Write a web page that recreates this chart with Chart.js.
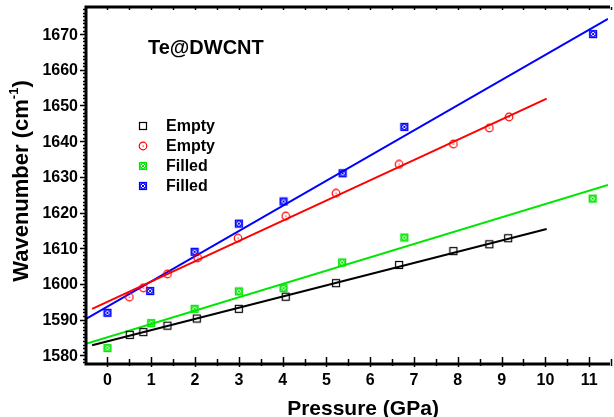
<!DOCTYPE html>
<html>
<head>
<meta charset="utf-8">
<script src="https://cdn.jsdelivr.net/npm/chart.js@4"></script>
<style>
  html, body { margin: 0; padding: 0; background: #fff; overflow: hidden; }
  #wrap { width: 614px; height: 417px; }
</style>
</head>
<body>
<div id="wrap"><canvas id="pressure-chart"></canvas></div>
<script>
// Raman G-band shift vs pressure, Te@DWCNT

// ── Measured points ───────────────────────────────
const emptyOuterX = [0.51, 0.82, 1.37, 2.04, 3.0, 4.07, 5.22, 6.66, 7.9, 8.72, 9.15];
const emptyOuterY = [1585.7, 1586.5, 1588.3, 1590.3, 1593.0, 1596.4, 1600.2, 1605.3, 1609.2, 1611.1, 1612.8];
const emptyInnerX = [0.50, 0.82, 1.37, 2.06, 2.98, 4.07, 5.22, 6.66, 7.9, 8.72, 9.17];
const emptyInnerY = [1596.3, 1598.9, 1602.8, 1607.3, 1612.8, 1619.0, 1625.4, 1633.5, 1639.2, 1643.7, 1646.8];
const filledOuterX = [0, 1.0, 1.99, 3.0, 4.02, 5.36, 6.78, 11.08];
const filledOuterY = [1582.0, 1589.0, 1593.0, 1597.9, 1598.8, 1606.0, 1613.0, 1623.9];
const filledInnerX = [0, 0.975, 1.99, 3.0, 4.02, 5.37, 6.78, 11.09];
const filledInnerY = [1591.9, 1598.0, 1609.0, 1616.9, 1623.1, 1631.0, 1644.0, 1670.0];

// ── Linear fits (end points) ──────────────────────
const fitEmptyOuterX = [-0.35, 10.03];
const fitEmptyOuterY = [1582.8, 1615.4];
const fitEmptyInnerX = [-0.35, 10.03];
const fitEmptyInnerY = [1593.0, 1651.9];
const fitFilledOuterX = [-0.49, 11.43];
const fitFilledOuterY = [1583.2, 1627.7];
const fitFilledInnerX = [-0.49, 11.43];
const fitFilledInnerY = [1590.2, 1674.3];

// ── Axes ──────────────────────────────────────────
const xTicks = [0, 1, 2, 3, 4, 5, 6, 7, 8, 9, 10, 11];
const yTicks = [1580, 1590, 1600, 1610, 1620, 1630, 1640, 1650, 1660, 1670];
const seriesLabels = ['Empty', 'Empty', 'Filled', 'Filled'];

const COLORS = { black: '#000000', red: '#ff0000', green: '#00e600', blue: '#0000ff' };
const FONT = '"Liberation Sans", Arial, Helvetica, sans-serif';

const pts = (xs, ys) => xs.map((x, i) => ({ x, y: ys[i] }));

// small marker glyphs used as pointStyle
function marker(kind, color) {
  const c = document.createElement('canvas');
  c.width = 10; c.height = 10;
  const g = c.getContext('2d');
  g.strokeStyle = color;
  g.fillStyle = color;
  g.lineWidth = 1.2;
  if (kind === 'square') {
    g.strokeRect(1.5, 1.5, 7, 7);
  } else if (kind === 'circle') {
    g.beginPath(); g.arc(5, 5, 3.8, 0, Math.PI * 2); g.stroke();
    g.fillRect(4.5, 4.5, 1.2, 1.2);
  } else {
    g.strokeRect(1.5, 1.5, 7, 7);
    g.lineWidth = 1;
    g.beginPath(); g.arc(5, 5, 2.8, 0, Math.PI * 2); g.stroke();
    g.beginPath();
    g.moveTo(2.5, 2.5); g.lineTo(7.5, 7.5);
    g.moveTo(7.5, 2.5); g.lineTo(2.5, 7.5);
    g.stroke();
  }
  return c;
}

const markers = [
  marker('square', COLORS.black),
  marker('circle', COLORS.red),
  marker('boxcross', COLORS.green),
  marker('boxcross', COLORS.blue),
];

function scatterSet(label, xs, ys, i) {
  return { type: 'scatter', label, data: pts(xs, ys), pointStyle: markers[i], pointRadius: 5,
           showLine: false, order: 1 };
}
function fitSet(xs, ys, color) {
  return { type: 'line', label: '', data: pts(xs, ys), borderColor: color, borderWidth: 2,
           pointRadius: 0, fill: false, order: 2 };
}

// axes frame, ticks, labels, title and legend
const decorations = {
  id: 'decorations',
  afterDraw(chart) {
    const { ctx, chartArea: a, scales: { x, y } } = chart;
    ctx.save();
    ctx.strokeStyle = '#000';
    ctx.fillStyle = '#000';

    // minor/major ticks
    ctx.lineWidth = 1.5;
    ctx.beginPath();
    for (let v = 1578; v <= 1677; v++) {
      const py = Math.round(y.getPixelForValue(v)) + 0.5;
      const len = v % 10 === 0 ? 6 : 3;
      ctx.moveTo(a.left - len, py); ctx.lineTo(a.left, py);
    }
    for (let v = -0.5; v <= 11.5; v += 0.5) {
      const px = Math.round(x.getPixelForValue(v)) + 0.5;
      if (px <= a.left + 1) continue;
      const len = Number.isInteger(v) ? 7 : 5;
      ctx.moveTo(px, a.bottom); ctx.lineTo(px, a.bottom - len);
      ctx.moveTo(px, a.bottom); ctx.lineTo(px, a.bottom + (Number.isInteger(v) ? 3 : 2));
      ctx.moveTo(px, a.top); ctx.lineTo(px, a.top + 3);
    }
    ctx.stroke();

    // frame
    ctx.lineWidth = 3;
    ctx.beginPath();
    ctx.moveTo(a.right + 2, a.top); ctx.lineTo(a.left, a.top);
    ctx.lineTo(a.left, a.bottom); ctx.lineTo(a.right + 2, a.bottom);
    ctx.stroke();

    // tick labels
    ctx.font = 'bold 16px ' + FONT;
    ctx.textAlign = 'right';
    ctx.textBaseline = 'middle';
    yTicks.forEach(v => ctx.fillText(String(v), a.left - 8, y.getPixelForValue(v) + 1));
    ctx.textAlign = 'center';
    xTicks.forEach(v => ctx.fillText(String(v), x.getPixelForValue(v), 381));

    // axis titles
    ctx.font = 'bold 21px ' + FONT;
    ctx.textBaseline = 'alphabetic';
    ctx.fillText('Pressure (GPa)', 363, 415);

    ctx.save();
    ctx.translate(28, 181);
    ctx.rotate(-Math.PI / 2);
    const main = 'Wavenumber (cm', sup = '-1', tail = ')';
    ctx.font = 'bold 22px ' + FONT;
    const wMain = ctx.measureText(main).width, wTail = ctx.measureText(tail).width;
    ctx.font = 'bold 13px ' + FONT;
    const wSup = ctx.measureText(sup).width;
    let sx = -(wMain + wSup + wTail) / 2;
    ctx.textAlign = 'left';
    ctx.font = 'bold 22px ' + FONT;
    ctx.fillText(main, sx, 0); sx += wMain;
    ctx.font = 'bold 13px ' + FONT;
    ctx.fillText(sup, sx, -10); sx += wSup;
    ctx.font = 'bold 22px ' + FONT;
    ctx.fillText(tail, sx, 0);
    ctx.restore();

    // sample label
    ctx.font = 'bold 20px ' + FONT;
    ctx.textAlign = 'left';
    ctx.fillText('Te@DWCNT', 148, 54);

    // legend
    ctx.font = 'bold 16px ' + FONT;
    ctx.textBaseline = 'middle';
    seriesLabels.forEach((lab, i) => {
      const cy = 126 + i * 20;
      ctx.drawImage(markers[i], 138, cy - 5);
      ctx.fillText(lab, 166, cy + 1);
    });
    ctx.restore();
  }
};

new Chart(document.getElementById('pressure-chart'), {
  data: {
    datasets: [
      fitSet(fitEmptyOuterX, fitEmptyOuterY, COLORS.black),
      fitSet(fitEmptyInnerX, fitEmptyInnerY, COLORS.red),
      fitSet(fitFilledOuterX, fitFilledOuterY, COLORS.green),
      fitSet(fitFilledInnerX, fitFilledInnerY, COLORS.blue),
      scatterSet(seriesLabels[0], emptyOuterX, emptyOuterY, 0),
      scatterSet(seriesLabels[1], emptyInnerX, emptyInnerY, 1),
      scatterSet(seriesLabels[2], filledOuterX, filledOuterY, 2),
      scatterSet(seriesLabels[3], filledInnerX, filledInnerY, 3),
    ]
  },
  options: {
    responsive: true,
    maintainAspectRatio: false,
    devicePixelRatio: 1,
    animation: false,
    layout: { padding: { left: 86, top: 7, right: 0, bottom: 53 } },
    plugins: { legend: { display: false }, tooltip: { enabled: false } },
    scales: {
      x: { type: 'linear', min: -0.49, max: 11.43, display: false },
      y: { type: 'linear', min: 1577.55, max: 1677.6, display: false }
    }
  },
  plugins: [decorations]
});
</script>
</body>
</html>
